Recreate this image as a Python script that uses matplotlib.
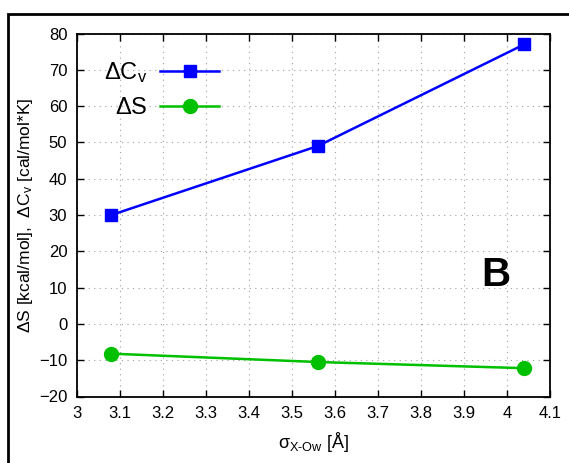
import matplotlib
matplotlib.use("Agg")
import matplotlib.pyplot as plt
from matplotlib.patches import Rectangle

sigma = [3.08, 3.56, 4.04]
dCv = [30.0, 49.0, 77.0]
dS = [-8.2, -10.5, -12.2]
xticks = [3.0, 3.1, 3.2, 3.3, 3.4, 3.5, 3.6, 3.7, 3.8, 3.9, 4.0, 4.1]
xticklabels = ["3", "3.1", "3.2", "3.3", "3.4", "3.5", "3.6", "3.7", "3.8", "3.9", "4", "4.1"]
yticks = [-20, -10, 0, 10, 20, 30, 40, 50, 60, 70, 80]

plt.rcParams['font.family'] = ['Liberation Sans', 'DejaVu Sans']
plt.rcParams['mathtext.fontset'] = 'custom'
plt.rcParams['mathtext.rm'] = 'Liberation Sans'
plt.rcParams['mathtext.it'] = 'Liberation Sans'

fig = plt.figure(figsize=(5.69, 4.63), dpi=100)
L, R, T, B = 77, 550, 33.5, 396.5
ax = fig.add_axes([L/569, 1-B/463, (R-L)/569, (B-T)/463])

ax.plot(sigma, dCv, color='#0000ff', lw=1.8, marker='s', ms=8, label=r'$\Delta$C$_\mathrm{v}$')
ax.plot(sigma, dS, color='#00c000', lw=1.8, marker='o', ms=10, label=r'$\Delta$S')

ax.set_xlim(3.0, 4.1)
ax.set_ylim(-20, 80)
ax.set_xticks(xticks)
ax.set_xticklabels(xticklabels)
ax.set_yticks(yticks)
ax.tick_params(direction='in', length=5, width=1, top=True, right=True, labelsize=12, pad=7)
ax.grid(True, linestyle=(0, (1, 4)), color='#a0a0a0', lw=0.8)
for s in ax.spines.values():
    s.set_linewidth(1.3)

ax.set_xlabel(r'$\sigma_\mathrm{X\text{-}Ow}$ [Å]', fontsize=13, labelpad=6)
ax.set_ylabel(r'$\Delta$S [kcal/mol],  $\Delta$C$_\mathrm{v}$ [cal/mol*K]', fontsize=12.5, labelpad=3)

leg = ax.legend(loc='upper left', bbox_to_anchor=(0.012, 0.985), markerfirst=False, frameon=False,
                fontsize=17, handlelength=2.5, labelspacing=0.5, handletextpad=0.55)
for t in leg.get_texts():
    t.set_ha('right')

ax.text(0.886, 0.335, 'B', transform=ax.transAxes, fontsize=29, fontweight='bold', ha='center', va='center')

fig.patches.append(Rectangle((8/569, -0.05), 1.2, 1 - 14/463 + 0.05, transform=fig.transFigure,
                             fill=False, lw=2, edgecolor='black'))

fig.savefig('out.png', dpi=100)
